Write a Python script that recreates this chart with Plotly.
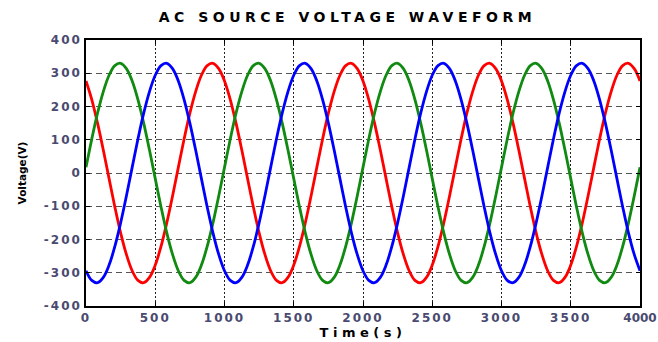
import plotly.graph_objects as go

# Sample times (s): 24 samples per 1000 s cycle, 0..4000
sample_step = 1000 / 24
time_s = [i * sample_step for i in range(97)]

# Phase voltages (V) at each sample time
phase_red = [
    277, 221, 150, 69, -17, -102, -180, -245, -294, -323, -330, -314,
    -277, -221, -150, -69, 17, 102, 180, 245, 294, 323, 330, 314,
    277, 221, 150, 69, -17, -102, -180, -245, -294, -323, -330, -314,
    -277, -221, -150, -69, 17, 102, 180, 245, 294, 323, 330, 314,
    277, 221, 150, 69, -17, -102, -180, -245, -294, -323, -330, -314,
    -277, -221, -150, -69, 17, 102, 180, 245, 294, 323, 330, 314,
    277, 221, 150, 69, -17, -102, -180, -245, -294, -323, -330, -314,
    -277, -221, -150, -69, 17, 102, 180, 245, 294, 323, 330, 314,
    277,
]
phase_green = [
    17, 102, 180, 245, 294, 323, 330, 314, 277, 221, 150, 69,
    -17, -102, -180, -245, -294, -323, -330, -314, -277, -221, -150, -69,
    17, 102, 180, 245, 294, 323, 330, 314, 277, 221, 150, 69,
    -17, -102, -180, -245, -294, -323, -330, -314, -277, -221, -150, -69,
    17, 102, 180, 245, 294, 323, 330, 314, 277, 221, 150, 69,
    -17, -102, -180, -245, -294, -323, -330, -314, -277, -221, -150, -69,
    17, 102, 180, 245, 294, 323, 330, 314, 277, 221, 150, 69,
    -17, -102, -180, -245, -294, -323, -330, -314, -277, -221, -150, -69,
    17,
]
phase_blue = [
    -294, -323, -330, -314, -277, -221, -150, -69, 17, 102, 180, 245,
    294, 323, 330, 314, 277, 221, 150, 69, -17, -102, -180, -245,
    -294, -323, -330, -314, -277, -221, -150, -69, 17, 102, 180, 245,
    294, 323, 330, 314, 277, 221, 150, 69, -17, -102, -180, -245,
    -294, -323, -330, -314, -277, -221, -150, -69, 17, 102, 180, 245,
    294, 323, 330, 314, 277, 221, 150, 69, -17, -102, -180, -245,
    -294, -323, -330, -314, -277, -221, -150, -69, 17, 102, 180, 245,
    294, 323, 330, 314, 277, 221, 150, 69, -17, -102, -180, -245,
    -294,
]

x_tick_values = [0, 500, 1000, 1500, 2000, 2500, 3000, 3500, 4000]
x_tick_labels = ["0", "500", "1000", "1500", "2000", "2500", "3000", "3500", "4000"]
y_tick_values = [-400, -300, -200, -100, 0, 100, 200, 300, 400]
y_tick_labels = ["-400", "-300", "-200", "-100", "0", "100", "200", "300", "400"]


def spaced(text, px):
    return f'<span style="letter-spacing:{px}px">{text}</span>'


fig = go.Figure()
for name, vals, color in [
    ("Phase A", phase_red, "#ff0000"),
    ("Phase C", phase_green, "#108a10"),
    ("Phase B", phase_blue, "#0000ff"),
]:
    fig.add_trace(go.Scatter(
        x=time_s, y=vals, mode="lines", name=name,
        line=dict(color=color, width=2.8, shape="spline", smoothing=1),
        showlegend=False,
    ))

tick_font = dict(family="DejaVu Sans", size=12, color="#4a4a70", weight="bold")

# last x label sits at the right edge of the page: keep it unspaced so it fits
x_ticktext = [spaced(t, 2) for t in x_tick_labels[:-1]] + [x_tick_labels[-1]]

fig.update_layout(
    width=658, height=342,
    margin=dict(l=86, r=18, t=40, b=36),
    paper_bgcolor="white", plot_bgcolor="white",
    title=dict(
        text=spaced("AC SOURCE VOLTAGE WAVEFORM", 4.5),
        font=dict(family="DejaVu Sans", size=14, color="black", weight="bold"),
        x=0.528, xanchor="center", y=1 - 17 / 342, yanchor="middle", yref="container",
    ),
    xaxis=dict(
        range=[0, 4000], automargin=False,
        tickmode="array", tickvals=x_tick_values,
        ticktext=x_ticktext,
        tickfont=tick_font, ticklabeloverflow="allow",
        showgrid=True, gridcolor="#222222", griddash="2px,2px", gridwidth=1.3,
        showline=True, linecolor="black", linewidth=1.5, mirror="allticks",
        ticks="inside", ticklen=4, tickcolor="black",
        zeroline=False,
        title=dict(text=spaced("Time(s)", 4.5),
                   font=dict(family="DejaVu Sans", size=13, color="black", weight="bold"),
                   standoff=4),
    ),
    yaxis=dict(
        range=[-400, 400], automargin=False,
        tickmode="array", tickvals=y_tick_values,
        ticktext=[spaced(t, 2) for t in y_tick_labels],
        tickfont=tick_font,
        showgrid=True, gridcolor="#555555", griddash="6px,4px", gridwidth=1,
        showline=True, linecolor="black", linewidth=1.5, mirror="allticks",
        ticks="inside", ticklen=4, tickcolor="black",
        zeroline=False,
        title=dict(text="Voltage(V)",
                   font=dict(family="DejaVu Sans", size=10.5, color="black", weight="bold"),
                   standoff=15),
    ),
)

fig.write_html("out.html")
